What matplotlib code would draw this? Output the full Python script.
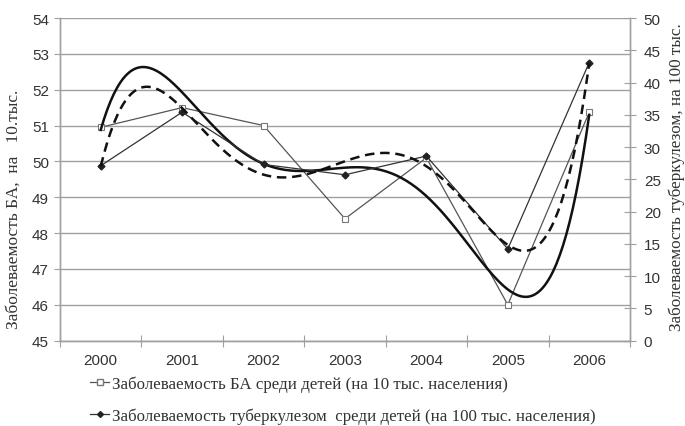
import numpy as np
import matplotlib
matplotlib.use("Agg")
import matplotlib.pyplot as plt
from matplotlib.lines import Line2D

# данные с графика
годы = ['2000', '2001', '2002', '2003', '2004', '2005', '2006']
ба = [50.95, 51.5, 51.0, 48.4, 50.1, 46.0, 51.37]          # на 10 тыс.
туберкулез = [27.1, 35.4, 27.3, 25.7, 28.6, 14.2, 43.1]    # на 100 тыс.

подпись_ба = 'Заболеваемость БА среди детей (на 10 тыс. населения)'
подпись_тб = 'Заболеваемость туберкулезом  среди детей (на 100 тыс. населения)'

serif = ['Liberation Serif', 'DejaVu Serif']
sans = ['Liberation Sans', 'DejaVu Sans']
серый = '#a0a0a0'
текст = '#333333'

fig = plt.figure(figsize=(6.85, 4.27), dpi=100)
ax = fig.add_axes([0.0876, 0.2, 0.832, 0.7555])
ax2 = ax.twinx()

x = np.arange(len(годы))
xx = np.linspace(0, len(годы) - 1, 300)

# ряды
ax.plot(x, ба, color='#555555', lw=0.9, marker='s', ms=4.2, mfc='white',
        mec='#777777', mew=0.8, zorder=3)
ax2.plot(x, туберкулез, color='#333333', lw=0.9, marker='D', ms=3.5,
         mfc='#222222', mec='#222222', zorder=3)

# полиномиальные линии тренда (5 степени)
тренд_ба = np.polyval(np.polyfit(x, ба, 5), xx)
тренд_тб = np.polyval(np.polyfit(x, туберкулез, 5), xx)
ax.plot(xx, тренд_ба, color='#111111', lw=1.8, zorder=4)
ax2.plot(xx, тренд_тб, color='#111111', lw=1.8, ls=(0, (3.8, 2.3)), zorder=4)

# левая ось
ax.set_xlim(-0.5, len(годы) - 0.5)
ax.set_ylim(45, 54)
ax.set_yticks(range(45, 55))
ax.yaxis.grid(True, color=серый, lw=1.0)
ax.set_axisbelow(True)
ax.tick_params(axis='y', direction='out', length=4, color=серый, labelsize=11, pad=4)
for t in ax.get_yticklabels():
    t.set_fontfamily(sans)
    t.set_color(текст)

# ось X: засечки между категориями
ax.set_xticks(np.arange(-0.5, len(годы), 1.0))
ax.set_xticklabels([])
ax.set_xticks(x, minor=True)
ax.set_xticklabels(годы, minor=True, fontsize=11, family=sans, color=текст)
ax.tick_params(axis='x', which='major', direction='inout', length=8, color=серый)
ax.tick_params(axis='x', which='minor', length=0, pad=9)

# правая ось
ax2.set_ylim(0, 50)
ax2.set_yticks(range(0, 51, 5))
ax2.tick_params(axis='y', direction='inout', length=8, color=серый, labelsize=11, pad=6)
for t in ax2.get_yticklabels():
    t.set_fontfamily(sans)
    t.set_color(текст)

for a in (ax, ax2):
    for s in a.spines.values():
        s.set_color(серый)
        s.set_linewidth(1.0)
    a.spines['top'].set_visible(False)

ax.set_ylabel('Заболеваемость БА,  на   10.тыс.', family=serif, fontsize=12.5,
              color=текст)
ax.yaxis.set_label_coords(-0.067, 0.41)
ax2.set_ylabel('Заболеваемость туберкулезом, на 100 тыс.', family=serif,
               fontsize=12.3, color=текст)
ax2.yaxis.set_label_coords(1.068, 0.51)

# легенда под графиком
h1 = Line2D([], [], color='#555555', lw=0.9, marker='s', ms=3.8, mfc='white', mec='#777777')
h2 = Line2D([], [], color='#333333', lw=0.9, marker='D', ms=3, mfc='#222222', mec='#222222')
fig.legend([h1, h2], [подпись_ба, подпись_тб], loc='upper left',
           bbox_to_anchor=(0.122, 0.134), frameon=False, handlelength=1.1,
           handletextpad=0.15, labelspacing=0.9, borderaxespad=0,
           prop={'family': serif, 'size': 12.2}, labelcolor=текст)

fig.savefig('out.png', dpi=100)
